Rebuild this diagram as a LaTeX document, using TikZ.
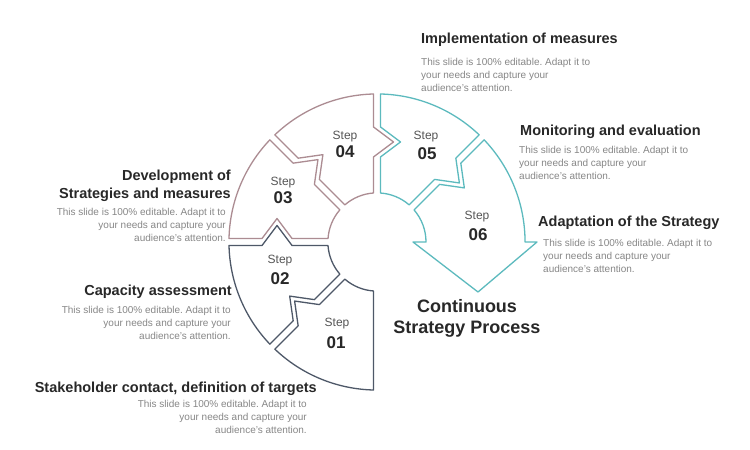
\documentclass[tikz,border=0pt]{standalone}
\usepackage{fontspec}
\setmainfont{Liberation Sans}
\frenchspacing
\definecolor{segBlue}{RGB}{78,88,104}
\definecolor{segRose}{RGB}{172,140,146}
\definecolor{segTeal}{RGB}{92,186,190}
\definecolor{headGray}{RGB}{40,40,40}
\definecolor{bodyGray}{RGB}{135,135,135}
\definecolor{stepGray}{RGB}{85,85,85}
\newcommand{\rIn}{49}
\newcommand{\rOut}{148}
\newcommand{\rMid}{100}
\newcommand{\chevW}{15}
\newcommand{\chevD}{20}
\newcommand{\gapH}{3.5}
\newcommand{\blurb}{This slide is 100\% editable. Adapt it to\\your needs and capture your\\audience's attention.}

\begin{document}
\begin{tikzpicture}[x=1pt,y=1pt]
  \tikzset{
    segment/.style={line width=1.3pt,fill=white,line join=round},
    heading/.style={font=\fontsize{14.5}{18}\selectfont\bfseries,text=headGray,inner sep=0pt},
    body/.style={font=\fontsize{10}{13}\selectfont,text=bodyGray,inner sep=0pt},
    steptext/.style={font=\fontsize{12}{14}\selectfont,text=stepGray,inner sep=0pt,anchor=base},
    stepnum/.style={font=\fontsize{17}{20}\selectfont\bfseries,text=headGray,inner sep=0pt,anchor=base},
    title/.style={font=\fontsize{18}{21}\selectfont\bfseries,text=headGray,inner sep=0pt,align=center}
  }
  \fill[white] (0,0) rectangle (750,450);
  \useasboundingbox (0,0) rectangle (750,450);

  % boundary points round the centre
  \begin{scope}[shift={(377,208)}]
    \foreach \a in {45,90,135,180,225} {
      \begin{scope}[rotate=\a]
        \coordinate (l\a-i) at (\rIn,\gapH);
        \coordinate (l\a-1) at (\rMid-\chevW,\gapH);
        \coordinate (l\a-p) at (\rMid,\gapH-\chevD);
        \coordinate (l\a-2) at (\rMid+\chevW,\gapH);
        \coordinate (l\a-o) at (\rOut,\gapH);
        \coordinate (t\a-i) at (\rIn,-\gapH);
        \coordinate (t\a-1) at (\rMid-\chevW,-\gapH);
        \coordinate (t\a-p) at (\rMid,-\gapH-\chevD);
        \coordinate (t\a-2) at (\rMid+\chevW,-\gapH);
        \coordinate (t\a-o) at (\rOut,-\gapH);
      \end{scope}
    }
    \begin{scope}[rotate=270]
      \coordinate (t270-i) at (\rIn,-\gapH);
      \coordinate (t270-o) at (\rOut,-\gapH);
    \end{scope}
    \coordinate (head-base) at (\rIn,0);
    \coordinate (head-in) at (\rIn-13,0);
    \coordinate (head-tip) at (101,-50);
    \coordinate (head-out) at (\rOut+12,0);
  \end{scope}

  % step 01
  \draw[segment,draw=segBlue] (t270-i) -- (t270-o)
    arc[start angle=268.65,end angle=226.35,radius=\rOut]
    -- (l225-o) -- (l225-2) -- (l225-p) -- (l225-1) -- (l225-i)
    arc[start angle=229.08,end angle=265.92,radius=\rIn] -- cycle;
  % step 02
  \draw[segment,draw=segBlue] (t225-i) -- (t225-1) -- (t225-p) -- (t225-2) -- (t225-o)
    arc[start angle=223.65,end angle=181.35,radius=\rOut]
    -- (l180-o) -- (l180-2) -- (l180-p) -- (l180-1) -- (l180-i)
    arc[start angle=184.08,end angle=220.92,radius=\rIn] -- cycle;
  % step 03
  \draw[segment,draw=segRose] (t180-i) -- (t180-1) -- (t180-p) -- (t180-2) -- (t180-o)
    arc[start angle=178.65,end angle=136.35,radius=\rOut]
    -- (l135-o) -- (l135-2) -- (l135-p) -- (l135-1) -- (l135-i)
    arc[start angle=139.08,end angle=175.92,radius=\rIn] -- cycle;
  % step 04
  \draw[segment,draw=segRose] (t135-i) -- (t135-1) -- (t135-p) -- (t135-2) -- (t135-o)
    arc[start angle=133.65,end angle=91.35,radius=\rOut]
    -- (l90-o) -- (l90-2) -- (l90-p) -- (l90-1) -- (l90-i)
    arc[start angle=94.08,end angle=130.92,radius=\rIn] -- cycle;
  % step 05
  \draw[segment,draw=segTeal] (t90-i) -- (t90-1) -- (t90-p) -- (t90-2) -- (t90-o)
    arc[start angle=88.65,end angle=46.35,radius=\rOut]
    -- (l45-o) -- (l45-2) -- (l45-p) -- (l45-1) -- (l45-i)
    arc[start angle=49.08,end angle=85.92,radius=\rIn] -- cycle;
  % step 06, with the arrow head
  \draw[segment,draw=segTeal] (t45-i) -- (t45-1) -- (t45-p) -- (t45-2) -- (t45-o)
    arc[start angle=43.65,end angle=0,radius=\rOut]
    -- (head-out) -- (head-tip) -- (head-in) -- (head-base)
    arc[start angle=0,end angle=40.92,radius=\rIn] -- cycle;

  % step labels
  \node[steptext] (s01) at (337,123.7) {Step};
  \node[stepnum] (n01) at (336,101.9) {01};
  \node[steptext] (s02) at (280,186.7) {Step};
  \node[stepnum] (n02) at (280,165.9) {02};
  \node[steptext] (s03) at (283,264.7) {Step};
  \node[stepnum] (n03) at (283,246.9) {03};
  \node[steptext] (s04) at (345,310.7) {Step};
  \node[stepnum] (n04) at (345,292.9) {04};
  \node[steptext] (s05) at (426,310.7) {Step};
  \node[stepnum] (n05) at (427,290.9) {05};
  \node[steptext] (s06) at (477,230.7) {Step};
  \node[stepnum] (n06) at (478,209.9) {06};

  \node[title,anchor=north] (title) at (467,151) {Continuous\\Strategy Process};

  % texts on the right
  \node[heading,anchor=base west] (implHead) at (421,406) {Implementation of measures};
  \node[body,align=left,anchor=north west] (implBody) at (421,392) {\blurb};
  \node[heading,anchor=base west] (monHead) at (520,314) {Monitoring and evaluation};
  \node[body,align=left,anchor=north west] (monBody) at (519,304) {\blurb};
  \node[heading,anchor=base west] (adaHead) at (538,223) {Adaptation of the Strategy};
  \node[body,align=left,anchor=north west] (adaBody) at (543,211) {\blurb};

  % texts on the left
  \node[heading,align=right,anchor=north east] (devHead) at (231,280) {Development of\\Strategies and measures};
  \node[body,align=right,anchor=north east] (devBody) at (226,242) {\blurb};
  \node[heading,anchor=base east] (capHead) at (232,154) {Capacity assessment};
  \node[body,align=right,anchor=north east] (capBody) at (231,144) {\blurb};
  \node[heading,anchor=base east] (stakeHead) at (317,57) {Stakeholder contact, definition of targets};
  \node[body,align=right,anchor=north east] (stakeBody) at (307,50) {\blurb};
\end{tikzpicture}
\end{document}
